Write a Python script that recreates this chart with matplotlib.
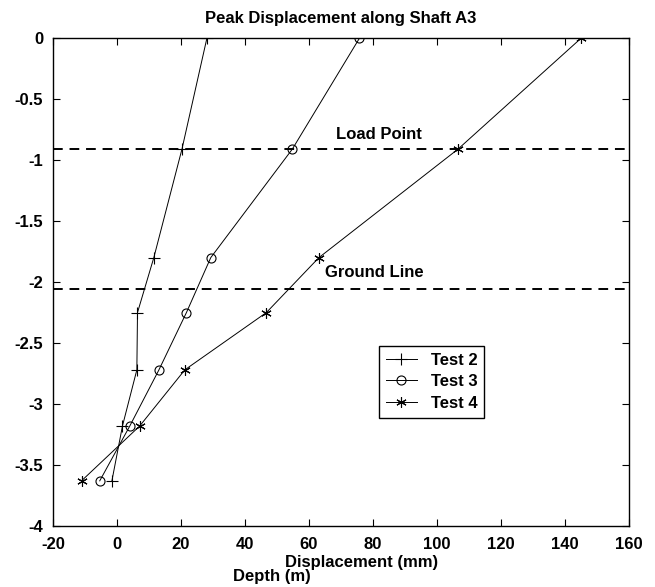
import matplotlib
matplotlib.use('Agg')
import matplotlib.pyplot as plt

plt.rcParams['font.family'] = ['Liberation Sans', 'DejaVu Sans']
plt.rcParams['font.weight'] = 'bold'
plt.rcParams['axes.unicode_minus'] = False

# depth below the top of the shaft (m) and peak displacement (mm)
depth = [0, -0.91, -1.80, -2.25, -2.72, -3.18, -3.63]
test2 = [28.1, 20.3, 11.5, 6.4, 6.2, 1.7, -1.6]
test3 = [75.8, 54.8, 29.3, 21.7, 13.1, 4.0, -5.4]
test4 = [145.1, 106.6, 63.1, 46.7, 21.2, 7.1, -11.1]

load_point = -0.91
ground_line = -2.06

fs = 12

fig = plt.figure(figsize=(6.55, 5.87), dpi=100)
ax = fig.add_axes([0.081, 0.104, 0.879, 0.831])

ax.plot(test2, depth, color='black', lw=0.7, marker='+', ms=8, mew=0.8, label='Test 2')
ax.plot(test3, depth, color='black', lw=0.7, marker='o', ms=6.5, mfc='none', mew=0.8, label='Test 3')
ax.plot(test4, depth, color='black', lw=0.7, marker=(6, 2, 0), ms=7.5, mew=0.8, label='Test 4')

ax.axhline(load_point, color='black', lw=1.4, ls=(0, (5, 3.5)))
ax.axhline(ground_line, color='black', lw=1.4, ls=(0, (5, 3.5)))
ax.text(82, -0.79, 'Load Point', ha='center', va='center', fontsize=fs, fontweight='bold')
ax.text(80.5, -1.92, 'Ground Line', ha='center', va='center', fontsize=fs, fontweight='bold')

ax.set_xlim(-20, 160)
ax.set_ylim(-4, 0)
ax.set_xticks(range(-20, 161, 20))
ax.set_yticks([-4, -3.5, -3, -2.5, -2, -1.5, -1, -0.5, 0])
ax.set_yticklabels(['-4', '-3.5', '-3', '-2.5', '-2', '-1.5', '-1', '-0.5', '0'])
ax.tick_params(direction='in', length=5, width=0.8, top=True, right=True, labelsize=fs)
ax.tick_params(axis='x', pad=8)
ax.tick_params(axis='y', pad=7)
for lbl in ax.get_xticklabels() + ax.get_yticklabels():
    lbl.set_fontweight('bold')
for s in ax.spines.values():
    s.set_linewidth(1.0)

ax.set_title('Peak Displacement along Shaft A3', fontsize=fs, fontweight='bold', pad=11)
fig.text(362 / 655, 1 - 562 / 587, 'Displacement (mm)', ha='center', va='center',
         fontsize=fs, fontweight='bold')
fig.text(272 / 655, 1 - 576 / 587, 'Depth (m)', ha='center', va='center',
         fontsize=fs, fontweight='bold')

leg = ax.legend(loc='upper left', bbox_to_anchor=(0.566, 0.369), fancybox=False,
                edgecolor='black', framealpha=1, borderpad=0.4, labelspacing=0.4,
                handlelength=1.9, handletextpad=0.8, borderaxespad=0,
                prop={'size': fs, 'weight': 'bold'})
leg.get_frame().set_linewidth(1.0)

plt.savefig('out.png', dpi=100)
